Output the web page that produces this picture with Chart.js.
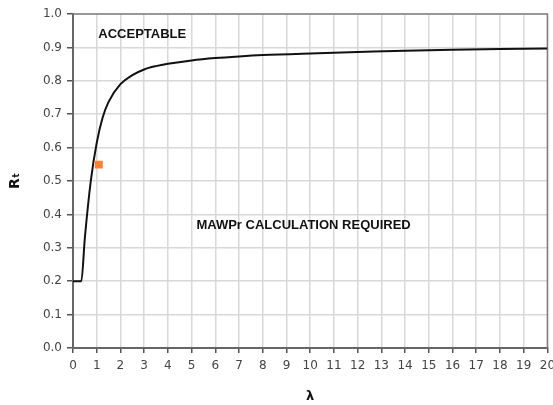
<!DOCTYPE html>
<html>
<head>
<meta charset="utf-8">
<script src="https://cdn.jsdelivr.net/npm/chart.js@4.4.0/dist/chart.umd.min.js"></script>
<style>
  html, body { margin: 0; padding: 0; background: #fff; }
  #wrap { width: 553px; height: 405px; }
</style>
</head>
<body>
<div id="wrap"><canvas id="rtChart" width="553" height="405"></canvas></div>
<script>
// screening curve
const lambdaValues = [0, 0.35, 0.5, 0.75, 1, 1.25, 1.5, 2, 2.5, 3, 3.5, 4, 5, 6, 7, 8, 10, 12, 14, 16, 18, 20];
const rtValues = [0.2, 0.2, 0.33, 0.5, 0.614, 0.69, 0.737, 0.79, 0.817, 0.834, 0.844, 0.851, 0.861, 0.868, 0.873, 0.877, 0.882, 0.886, 0.89, 0.893, 0.895, 0.897];

// assessed point
const pointLambda = [1.09];
const pointRt = [0.549];

// zone labels (centre, in data units)
const zoneLabels = ['ACCEPTABLE', 'MAWPr CALCULATION REQUIRED'];
const zoneLambda = [2.92, 9.72];
const zoneRt = [0.94, 0.368];

const curve = lambdaValues.map((x, i) => ({ x: x, y: rtValues[i] }));
const points = pointLambda.map((x, i) => ({ x: x, y: pointRt[i] }));

const zonePlugin = {
    id: 'zones',
    beforeDatasetsDraw(chart) {
        const { ctx, chartArea } = chart;
        ctx.save();
        ctx.strokeStyle = '#808080';
        ctx.lineWidth = 1.5;
        ctx.beginPath();
        ctx.moveTo(chartArea.left, chartArea.top);
        ctx.lineTo(chartArea.right, chartArea.top);
        ctx.lineTo(chartArea.right, chartArea.bottom);
        ctx.stroke();
        ctx.restore();
    },
    afterDatasetsDraw(chart) {
        const { ctx, scales } = chart;
        ctx.save();
        ctx.fillStyle = '#111';
        ctx.font = 'bold 13px "Liberation Sans", Arial, sans-serif';
        ctx.textAlign = 'center';
        ctx.textBaseline = 'middle';
        zoneLabels.forEach((txt, i) => {
            ctx.fillText(txt, scales.x.getPixelForValue(zoneLambda[i]), scales.y.getPixelForValue(zoneRt[i]));
        });
        ctx.restore();
    }
};

const ctx = document.getElementById('rtChart').getContext('2d');
new Chart(ctx, {
    type: 'scatter',
    data: {
        datasets: [{
            label: 'Point',
            data: points,
            pointStyle: 'rect',
            pointRadius: 5.6,
            pointBorderWidth: 0,
            backgroundColor: '#ff8030',
            order: 0
        }, {
            label: 'Rt',
            data: curve,
            showLine: true,
            borderColor: '#111',
            borderWidth: 2,
            pointRadius: 0,
            cubicInterpolationMode: 'monotone',
            order: 1
        }]
    },
    options: {
        responsive: false,
        animation: false,
        devicePixelRatio: 1,
        layout: { padding: { top: 14, right: 5, left: 0, bottom: 0 } },
        plugins: {
            legend: { display: false },
            tooltip: { enabled: false }
        },
        scales: {
            x: {
                type: 'linear',
                min: 0,
                max: 20,
                afterFit: s => { s.height = 57; s.paddingRight = 0; s.paddingLeft = 0; },
                ticks: {
                    stepSize: 1,
                    autoSkip: false,
                    maxRotation: 0,
                    padding: 6,
                    color: '#444',
                    font: { family: 'DejaVu Sans', size: 12 }
                },
                grid: { color: '#d8d8d8', lineWidth: 1.5, tickColor: '#555', tickLength: 5 },
                border: { color: '#666', width: 2 },
                title: {
                    display: true,
                    text: 'λ',
                    color: '#111',
                    padding: { top: 0, bottom: 1 },
                    font: { family: 'DejaVu Sans', size: 13, weight: 'bold' }
                }
            },
            y: {
                min: 0,
                max: 1,
                afterFit: s => { s.width = 73; },
                ticks: {
                    stepSize: 0.1,
                    padding: 5,
                    color: '#444',
                    font: { family: 'DejaVu Sans', size: 12 },
                    callback: v => v.toFixed(1)
                },
                grid: { color: '#d8d8d8', lineWidth: 1.5, tickColor: '#555', tickLength: 6 },
                border: { color: '#666', width: 2 },
                title: {
                    display: true,
                    text: 'Rₜ',
                    color: '#111',
                    padding: { top: 7, bottom: 0 },
                    font: { family: 'DejaVu Sans', size: 14, weight: 'bold' }
                }
            }
        }
    },
    plugins: [zonePlugin]
});
</script>
</body>
</html>
